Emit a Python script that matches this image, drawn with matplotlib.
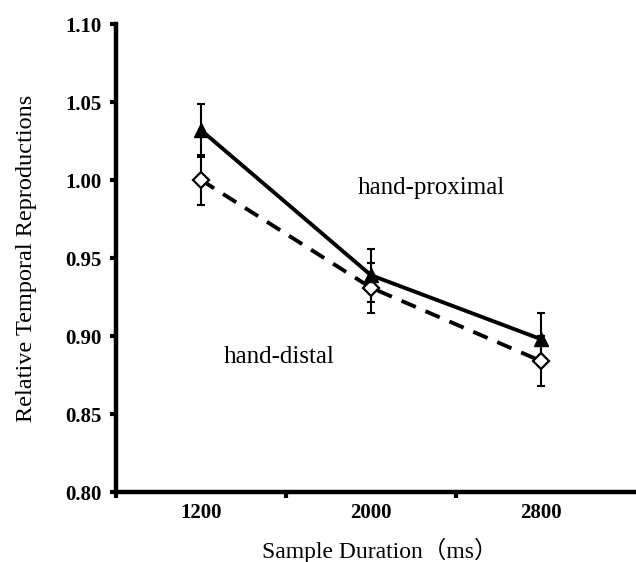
import matplotlib
matplotlib.use("Agg")
import matplotlib.pyplot as plt
from matplotlib.ticker import FixedLocator

categories = ["1200", "2000", "2800"]
proximal = [1.032, 0.939, 0.898]
proximal_err = [0.017, 0.017, 0.017]
distal = [1.000, 0.931, 0.884]
distal_err = [0.016, 0.016, 0.016]
yticks = [0.80, 0.85, 0.90, 0.95, 1.00, 1.05, 1.10]

serif = ["Liberation Serif", "Noto Sans CJK SC"]
plt.rcParams["font.family"] = serif

fig = plt.figure(figsize=(6.36, 5.62), dpi=100)
ax = fig.add_axes([116/636, 70/562, 1 - 116/636, (492-24)/562])

xs = [0.5, 1.5, 2.5]

ax.errorbar(xs, distal, yerr=distal_err, fmt="none", ecolor="black",
            elinewidth=1.5, capsize=2.6, capthick=1.5, zorder=2)
ax.errorbar(xs, proximal, yerr=proximal_err, fmt="none", ecolor="black",
            elinewidth=1.5, capsize=2.6, capthick=1.5, zorder=2)
ax.plot(xs, distal, color="black", lw=2.8, linestyle=(0, (4, 2.7)),
        marker="D", markersize=8.5, markerfacecolor="white",
        markeredgecolor="black", markeredgewidth=1.6, zorder=3)
ax.plot(xs, proximal, color="black", lw=2.8, linestyle="-",
        marker="^", markersize=10, markerfacecolor="black",
        markeredgecolor="black", zorder=4)

ax.text(1.856, 0.995, "hand-proximal", fontsize=18, ha="center", va="center")
ax.text(0.96, 0.8865, "hand-distal", fontsize=18, ha="center", va="center")

ax.set_xlim(0, 3.06)
ax.set_ylim(0.80, 1.10)

ax.spines["top"].set_visible(False)
ax.spines["right"].set_visible(False)
ax.spines["left"].set_linewidth(3.2)
ax.spines["bottom"].set_linewidth(3.2)

ax.set_yticks(yticks)
ax.set_yticklabels([f"{v:.2f}" for v in yticks], fontweight="bold", fontsize=15)
ax.tick_params(axis="y", direction="out", length=4, width=3, pad=6)

ax.xaxis.set_major_locator(FixedLocator([0, 1, 2]))
ax.set_xticklabels([])
ax.tick_params(axis="x", direction="out", length=4, width=3)
for x, lab in zip(xs, categories):
    ax.text(x, -0.045, lab, transform=ax.get_xaxis_transform(),
            fontweight="bold", fontsize=15, ha="center", va="center")

ax.set_ylabel("Relative Temporal Reproductions", fontsize=17.5, labelpad=21)
fig.text(380/636, 1 - 550/562, "Sample Duration（ms）", fontsize=17,
         ha="center", va="center", family=serif)

fig.savefig("out.png", dpi=100)
